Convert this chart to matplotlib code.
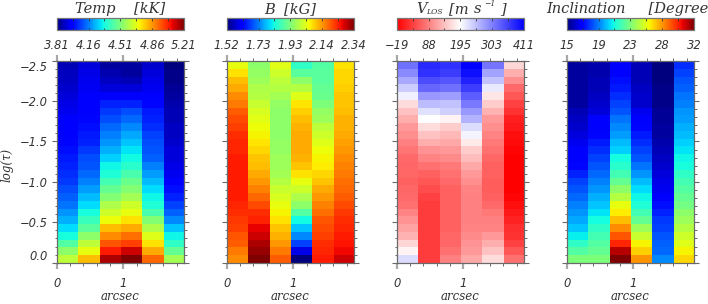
import numpy as np
import matplotlib
matplotlib.use("Agg")
import matplotlib.pyplot as plt
from matplotlib.colors import LinearSegmentedColormap, Normalize
from matplotlib.cm import ScalarMappable

# Values are read as positions on each panel's colour bar (0 = low end, 1 = high end),
# one list per column, top row (log tau = -2.5) first.
temp_levels = [
 [.05,.055,.06,.07,.08,.09,.10,.11,.12,.125,.13,.14,.15,.16,.17,.18,.20,.22,.24,.27,.30,.34,.38,.45,.52,.58],
 [.08,.09,.10,.105,.11,.12,.125,.13,.14,.15,.16,.18,.20,.21,.23,.25,.28,.31,.34,.38,.42,.46,.52,.58,.63,.71],
 [.03,.045,.06,.08,.11,.16,.18,.20,.23,.25,.27,.30,.33,.37,.39,.43,.47,.51,.56,.60,.64,.71,.76,.82,.88,.96],
 [.03,.03,.05,.08,.11,.16,.20,.23,.26,.29,.32,.35,.375,.40,.44,.48,.51,.55,.60,.63,.67,.73,.79,.84,.93,1.0],
 [.07,.08,.09,.10,.11,.13,.15,.16,.17,.19,.20,.21,.22,.25,.28,.31,.34,.37,.39,.44,.51,.56,.62,.67,.73,.80],
 [.0,.01,.01,.02,.03,.04,.05,.05,.06,.06,.07,.08,.08,.09,.10,.125,.14,.16,.19,.22,.26,.32,.37,.41,.47,.55],
]
b_levels = [
 [.63,.67,.71,.73,.76,.78,.81,.83,.84,.86,.87,.87,.88,.88,.88,.88,.88,.88,.87,.86,.85,.84,.82,.81,.78,.76],
 [.52,.53,.54,.56,.57,.59,.61,.625,.64,.65,.665,.68,.70,.71,.73,.75,.77,.80,.83,.86,.875,.91,.93,.96,.98,1.0],
 [.625,.60,.58,.57,.55,.53,.52,.52,.52,.52,.53,.53,.54,.54,.55,.57,.59,.61,.63,.65,.67,.70,.72,.75,.78,.81],
 [.41,.46,.52,.57,.62,.665,.69,.71,.72,.73,.73,.73,.72,.70,.67,.63,.60,.56,.52,.45,.375,.32,.26,.19,.09,.0],
 [.45,.46,.46,.47,.48,.50,.53,.54,.58,.60,.62,.64,.65,.66,.68,.70,.73,.75,.77,.79,.82,.83,.84,.86,.87,.88],
 [.67,.68,.68,.69,.70,.70,.71,.72,.72,.73,.74,.75,.76,.77,.78,.79,.80,.81,.83,.85,.86,.87,.88,.89,.90,.93],
]
vlos_levels = [
 [.78,.73,.67,.60,.53,.43,.38,.34,.30,.28,.25,.23,.21,.20,.20,.19,.20,.21,.22,.26,.29,.32,.35,.42,.48,.57],
 [.92,.90,.85,.80,.70,.63,.56,.50,.43,.38,.34,.29,.26,.22,.19,.17,.15,.13,.12,.12,.12,.12,.12,.12,.12,.12],
 [.90,.88,.83,.78,.69,.62,.59,.48,.40,.36,.33,.30,.27,.24,.22,.21,.19,.19,.19,.19,.19,.19,.20,.20,.22,.25],
 [1.0,.97,.93,.88,.82,.76,.70,.65,.57,.52,.46,.40,.37,.33,.30,.28,.26,.25,.25,.25,.25,.26,.27,.29,.30,.33],
 [.77,.68,.62,.54,.45,.40,.35,.30,.28,.26,.24,.22,.20,.19,.19,.18,.18,.19,.21,.24,.25,.26,.30,.34,.38,.43],
 [.42,.34,.28,.21,.17,.13,.10,.06,.05,.03,.02,.01,.0,.0,.0,.0,.0,.01,.03,.05,.07,.09,.10,.13,.17,.22],
]
incl_levels = [
 [.03,.03,.03,.03,.03,.03,.05,.06,.07,.085,.10,.11,.12,.13,.16,.19,.21,.23,.25,.27,.29,.32,.36,.41,.45,.50],
 [.04,.04,.05,.05,.06,.07,.08,.11,.12,.13,.15,.17,.19,.21,.23,.25,.27,.30,.32,.35,.375,.41,.43,.45,.47,.50],
 [.11,.12,.14,.15,.17,.19,.21,.24,.26,.28,.31,.33,.375,.40,.43,.47,.52,.57,.63,.66,.71,.76,.82,.87,.95,1.0],
 [.05,.05,.05,.06,.07,.07,.10,.12,.13,.15,.17,.19,.21,.24,.27,.31,.34,.37,.39,.43,.47,.54,.59,.65,.69,.75],
 [.0,.0,.0,.01,.01,.01,.02,.02,.03,.03,.04,.05,.06,.07,.08,.09,.10,.12,.14,.16,.18,.19,.21,.22,.23,.26],
 [.17,.19,.21,.22,.24,.25,.27,.28,.30,.31,.33,.35,.37,.38,.41,.43,.45,.47,.49,.52,.54,.57,.60,.62,.65,.68],
]
temp_labels = ['3.81', '4.16', '4.51', '4.86', '5.21']
b_labels = ['1.52', '1.73', '1.93', '2.14', '2.34']
vlos_labels = ['\u221219', '88', '195', '303', '411']
incl_labels = ['15', '19', '23', '28', '32']
ranges = [(3.81, 5.21), (1.52, 2.34), (-19, 411), (15, 32)]
ytick_vals = [-2.5, -2.0, -1.5, -1.0, -0.5, 0.0]
ytick_labels = ['\u22122.5', '\u22122.0', '\u22121.5', '\u22121.0', '\u22120.5', '0.0']
x_extent = 1.91
log_tau_top, log_tau_bottom = -2.5, 0.0

W, H = 708, 304
FRAME = '#6a6a6a'
INK = '#333333'
serif = dict(family='DejaVu Serif', style='italic', color=INK)
sans = dict(family='DejaVu Sans', style='oblique')
jet = plt.get_cmap('jet')
rwb = LinearSegmentedColormap.from_list('rwb', ['#ff0000', '#ffffff', '#0000ff'], N=256)
cmaps = [jet, jet, rwb, jet]
lefts = [56.7, 226.7, 396.7, 566.7]
pw = 127.3
all_levels = [temp_levels, b_levels, vlos_levels, incl_levels]
all_labels = [temp_labels, b_labels, vlos_labels, incl_labels]
TITLE_SIZE = 10.5

fig = plt.figure(figsize=(W / 100, H / 100), dpi=100)


def rect(x0, y0, x1, y1):
    return [x0 / W, 1 - y1 / H, (x1 - x0) / W, (y1 - y0) / H]


def put(x, y, s, size=TITLE_SIZE, ha='left'):
    fig.text(x / W, 1 - y / H, s, ha=ha, va='baseline', fontsize=size, **serif)


for i in range(4):
    lo, hi = ranges[i]
    vals = lo + np.array(all_levels[i]).T * (hi - lo)
    ax = fig.add_axes(rect(lefts[i], 60.7, lefts[i] + pw, 262.7))
    norm = Normalize(lo, hi)
    ax.imshow(vals, cmap=cmaps[i], norm=norm, aspect='auto', interpolation='nearest',
              extent=(0, x_extent, log_tau_bottom, log_tau_top))
    ax.set_xlim(0, x_extent)
    ax.set_ylim(log_tau_bottom, log_tau_top)
    for s in ax.spines.values():
        s.set_color(FRAME)
        s.set_linewidth(0.9)
    ax.set_xticks([0, 1])
    ax.set_xticklabels(['0', '1'], fontsize=8.3, color=INK, **sans)
    ax.set_xticks(np.arange(0, 1.91, 0.2), minor=True)
    ax.set_yticks(ytick_vals)
    ax.set_yticks(np.arange(-2.5, 0.01, 0.1), minor=True)
    ax.tick_params(axis='x', which='major', top=True, bottom=True, direction='out',
                   length=4.2, width=1.6, color='#a8a8a8', pad=6)
    ax.tick_params(axis='x', which='minor', top=True, bottom=True, direction='out',
                   length=2.4, width=0.7, color=FRAME)
    ax.tick_params(axis='y', which='major', left=True, right=True, direction='out',
                   length=3.6, width=0.8, color=FRAME, pad=2.5)
    ax.tick_params(axis='y', which='minor', left=True, right=True, direction='out',
                   length=1.8, width=0.7, color=FRAME)
    if i == 0:
        ax.set_yticklabels(ytick_labels, fontsize=8.3, color=INK, **sans)
        tl = ax.get_yticklabels()
        tl[0].set_va('top')
        tl[-1].set_va('bottom')
    else:
        ax.set_yticklabels([])
    fig.text((lefts[i] + pw / 2 - 0.5) / W, 1 - 296.5 / H, 'arcsec', ha='center', va='center',
             fontsize=8.5, **serif)

    cax = fig.add_axes(rect(lefts[i], 18, lefts[i] + pw, 30))
    cb = fig.colorbar(ScalarMappable(norm=norm, cmap=cmaps[i]), cax=cax, orientation='horizontal')
    cb.outline.set_edgecolor('#777777')
    cb.outline.set_linewidth(0.9)
    cb.set_ticks(np.linspace(lo, hi, 9))
    cb.set_ticklabels([all_labels[i][k // 2] if k % 2 == 0 else '' for k in range(9)],
                      fontsize=8.3, color=INK, **sans)
    cax.tick_params(axis='x', which='major', top=True, bottom=True, direction='in',
                    length=1.8, width=0.6, color='#333333', pad=6.5)

put(120.3, 12.7, 'Temp    [kK]', ha='center')
put(290.3, 12.7, 'B  [kG]', ha='center')
put(416, 12.7, 'V')
put(426, 13.7, 'LOS', size=5.5)
put(449, 12.7, '[m')
put(474, 12.7, 's')
put(484.5, 6.5, '\u22121', size=5.5)
put(500, 12.7, ']')
put(546, 12.7, 'Inclination     [Degree')

fig.text(7.5 / W, 1 - 165 / H, 'log(\u03c4)', rotation=90, ha='center', va='center',
         fontsize=8.5, **serif)
fig.savefig('out.png', dpi=100)
